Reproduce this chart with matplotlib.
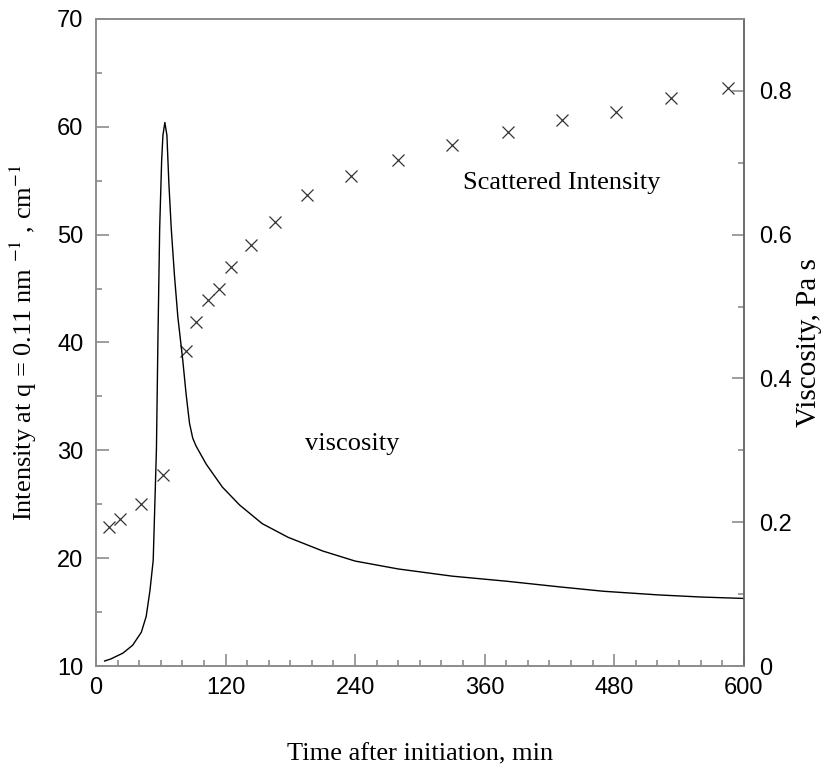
import numpy as np
import matplotlib
matplotlib.use("Agg")
import matplotlib.pyplot as plt
from matplotlib.ticker import MultipleLocator, FixedLocator

# scattered intensity at q = 0.11 nm^-1 (left axis)
scat_time = [12, 22, 42, 62.5, 83, 93, 104, 114, 125, 144, 166,
             195, 236, 280, 330, 382, 432, 482, 533, 585]
scat_int = [22.9, 23.6, 25.0, 27.7, 39.2, 41.9, 43.9, 45.0, 47.0, 49.0, 51.2,
            53.7, 55.4, 56.9, 58.3, 59.5, 60.6, 61.4, 62.7, 63.6]

# viscosity, Pa s (right axis)
visc_time = [8, 14, 25, 34, 42, 46.5, 50, 53, 54.5, 56, 57.4, 59, 60.8, 62, 63.8,
             65.7, 67.5, 69.7, 72.7, 75.8, 80.4, 83.5, 86.6, 89.6, 92.7, 102, 117,
             133, 154, 178, 210, 240, 280, 330, 380, 430, 470, 520, 560, 600]
visc = [0.007, 0.010, 0.018, 0.029, 0.047, 0.069, 0.105, 0.147, 0.224, 0.302,
        0.456, 0.609, 0.702, 0.738, 0.756, 0.738, 0.672, 0.609, 0.543, 0.486,
        0.425, 0.378, 0.338, 0.317, 0.306, 0.281, 0.249, 0.224, 0.198, 0.179,
        0.160, 0.146, 0.135, 0.125, 0.118, 0.110, 0.104, 0.099, 0.096, 0.094]

serif = ['Liberation Serif', 'DejaVu Serif']
sans = ['Liberation Sans', 'DejaVu Sans']
plt.rcParams['mathtext.fontset'] = 'stix'

fig = plt.figure(figsize=(8.31, 7.75), dpi=100)
ax = fig.add_axes([0.1155, 0.1406, 0.7795, 0.835])
ax2 = ax.twinx()

frame = '#8c8c8c'
ax.plot(scat_time, scat_int, 'x', color='#333333', markersize=9, markeredgewidth=0.9)
ax2.plot(visc_time, visc, '-', color='black', lw=1.0)

ax.set_xlim(0, 600)
ax.set_ylim(10, 70)
ax2.set_ylim(0, 0.9)

ax.xaxis.set_major_locator(MultipleLocator(120))
ax.xaxis.set_minor_locator(MultipleLocator(20))
ax.yaxis.set_major_locator(MultipleLocator(10))
ax.yaxis.set_minor_locator(MultipleLocator(5))
ax2.yaxis.set_major_locator(FixedLocator([0, 0.2, 0.4, 0.6, 0.8]))
ax2.yaxis.set_minor_locator(FixedLocator([0.1, 0.3, 0.5, 0.7]))
ax2.set_yticklabels(['0', '0.2', '0.4', '0.6', '0.8'])

for a in (ax, ax2):
    for s in a.spines.values():
        s.set_color(frame)
        s.set_linewidth(1.2)
ax2.spines['right'].set_color('#666666')
ax.tick_params(which='both', direction='in', color=frame, width=1.2, top=False, right=False)
ax.tick_params(which='major', length=9, labelsize=17)
ax.tick_params(which='minor', length=4.5)
ax.tick_params(axis='x', pad=8)
ax.tick_params(axis='y', pad=9)
ax2.tick_params(which='both', direction='in', color=frame, width=1.2)
ax2.tick_params(which='major', length=9, labelsize=17, pad=11)
ax2.tick_params(which='minor', length=4.5)
for lab in ax.get_xticklabels() + ax.get_yticklabels() + ax2.get_yticklabels():
    lab.set_family(sans)

ax.set_xlabel('Time after initiation, min', family=serif, fontsize=19)
ax.xaxis.set_label_coords(0.5, -0.12)
ax.set_ylabel('Intensity at q = 0.11 nm $^{-1}$ , cm$^{-1}$', family=serif, fontsize=19)
ax.yaxis.set_label_coords(-0.088, 0.5)
ax2.set_ylabel('Viscosity, Pa s', family=serif, fontsize=21)
ax2.yaxis.set_label_coords(1.081, 0.5)

ax.text(431, 54.8, 'Scattered Intensity', family=serif, fontsize=19, ha='center', va='center')
ax.text(237, 30.6, 'viscosity', family=serif, fontsize=19, ha='center', va='center')

fig.savefig('out.png', dpi=100)
